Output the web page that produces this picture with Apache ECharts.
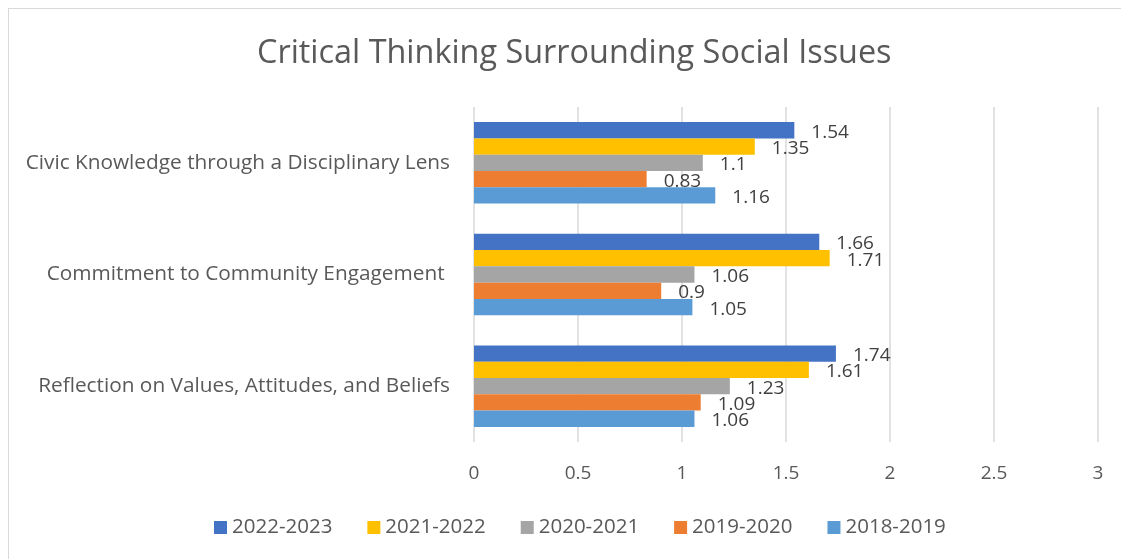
<!DOCTYPE html>
<html><head><meta charset="utf-8">
<script src="https://cdn.jsdelivr.net/npm/echarts@6/dist/echarts.min.js"></script>
<style>html,body{margin:0;padding:0;background:#fff}#c{width:1121px;height:559px;position:relative}
#frame{position:absolute;left:8px;top:8px;width:1130px;height:560px;border:1px solid #d9d9d9;box-sizing:border-box;pointer-events:none}</style>
</head><body><div id="c"></div><div id="frame"></div>
<script>
const categories = ['Reflection on Values, Attitudes, and Beliefs', 'Commitment to Community Engagement ', 'Civic Knowledge through a Disciplinary Lens'];
const seriesNames = ['2022-2023', '2021-2022', '2020-2021', '2019-2020', '2018-2019'];
const v2022_2023 = [1.74, 1.66, 1.54];
const v2021_2022 = [1.61, 1.71, 1.35];
const v2020_2021 = [1.23, 1.06, 1.1];
const v2019_2020 = [1.09, 0.9, 0.83];
const v2018_2019 = [1.06, 1.05, 1.16];
const colors = ['#4472C4', '#FFC000', '#A5A5A5', '#ED7D31', '#5B9BD5'];
const values = [v2022_2023, v2021_2022, v2020_2021, v2019_2020, v2018_2019];

const font = 'Open Sans';
const chart = echarts.init(document.getElementById('c'));
const series = seriesNames.map((n, i) => ({
  name: n, type: 'bar', data: values[i],
  itemStyle: { color: colors[i] },
  barGap: '0%', barCategoryGap: '27%',
  label: { show: true, position: 'right', distance: 17, offset: [0, 2], color: '#404040', fontSize: 19, fontFamily: font }
}));
chart.setOption({
  animation: false,
  title: { text: 'Critical Thinking Surrounding Social Issues', left: 252, top: 33,
    textStyle: { color: '#595959', fontSize: 32.4, fontWeight: 'normal', fontFamily: font } },
  legend: { data: seriesNames, top: 512, left: 209, itemWidth: 13, itemHeight: 13, itemGap: 35,
    icon: 'rect', textStyle: { color: '#595959', fontSize: 20.5, fontFamily: font } },
  grid: { left: 474, right: 23, top: 107, bottom: 117, containLabel: false },
  xAxis: { type: 'value', min: 0, max: 3, interval: 0.5,
    axisLine: { show: false }, axisTick: { show: false },
    axisLabel: { color: '#595959', fontSize: 19, fontFamily: font, margin: 22 },
    splitLine: { lineStyle: { color: '#d9d9d9', width: 1.5 } } },
  yAxis: { type: 'category', data: categories,
    axisLine: { show: false }, axisTick: { show: false },
    axisLabel: { color: '#595959', fontSize: 20.8, fontFamily: font, margin: 24 } },
  series: series
});
</script></body></html>
